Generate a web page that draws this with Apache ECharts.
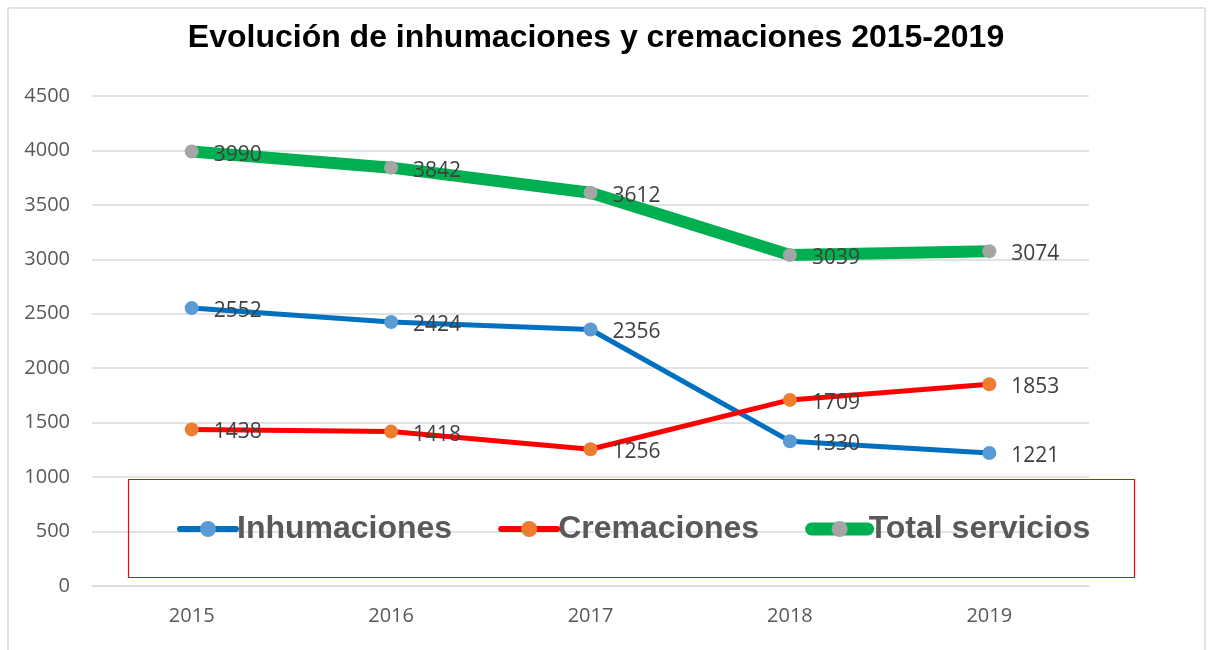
<!DOCTYPE html>
<html><head><meta charset="utf-8">
<script src="https://cdn.jsdelivr.net/npm/echarts@6/dist/echarts.min.js"></script>
<style>html,body{margin:0;padding:0;background:#fff}#c{width:1213px;height:650px}</style>
</head><body><div id="c"></div>
<script>
const years = ['2015','2016','2017','2018','2019'];
const inhumaciones = [2552, 2424, 2356, 1330, 1221];
const cremaciones = [1438, 1418, 1256, 1709, 1853];
const totalServicios = [3990, 3842, 3612, 3039, 3074];
const titleText = 'Evolución de inhumaciones y cremaciones 2015-2019';

const FONT = '"Liberation Sans", Arial, sans-serif';
const NFONT = '"Open Sans", sans-serif';
const chart = echarts.init(document.getElementById('c'), null, {renderer:'canvas'});
const lbl = {show:true, position:'right', distance:15, offset:[0,3], fontSize:21, color:'#404040', fontFamily:NFONT};
function mk(name, data, lineColor, markColor, width){
  return {name, type:'line', data, symbol:'circle', symbolSize:14,
    lineStyle:{color:lineColor, width, cap:'round', join:'round'},
    itemStyle:{color:markColor},
    label:lbl, z: 2};
}
chart.setOption({
  animation:false,
  title:{text:titleText, left:591, textAlign:'center', top:17,
    textStyle:{fontFamily:FONT, fontWeight:'bold', fontSize:32, color:'#000'}},
  grid:{left:92, right:124, top:96, bottom:64},
  xAxis:{type:'category', data:years, boundaryGap:true,
    axisLine:{lineStyle:{color:'#D9D9D9', width:1}}, axisTick:{show:false},
    axisLabel:{fontFamily:NFONT, fontSize:20, color:'#595959', margin:20}},
  yAxis:{type:'value', min:0, max:4500, interval:500,
    axisLine:{show:false}, axisTick:{show:false},
    splitLine:{lineStyle:{color:'#D9D9D9', width:1.5}},
    axisLabel:{fontFamily:NFONT, fontSize:20, color:'#595959', margin:22, formatter:v=>String(v)}},
  legend:{left:177, top:513, padding:0, itemWidth:56, itemHeight:20, itemGap:46,
    data:[
      {name:'Inhumaciones', lineStyle:{width:6}},
      {name:'Cremaciones', lineStyle:{width:6}},
      {name:'Total servicios', lineStyle:{width:13}}
    ],
    textStyle:{fontFamily:FONT, fontWeight:'bold', fontSize:32, color:'#595959', padding:[0,0,0,-4]}},
  graphic:[
    {type:'rect', left:126, top:477, shape:{width:1006, height:98}, style:{fill:'none', stroke:'#FF0000', lineWidth:1.2}, z:100},
    {type:'line', shape:{x1:8, y1:8, x2:8, y2:650}, style:{stroke:'#D9D9D9', lineWidth:1.5}},
    {type:'line', shape:{x1:8, y1:8, x2:1205, y2:8}, style:{stroke:'#D9D9D9', lineWidth:1.5}},
    {type:'line', shape:{x1:1205, y1:8, x2:1205, y2:650}, style:{stroke:'#D9D9D9', lineWidth:1.5}}
  ],
  series:[
    mk('Inhumaciones', inhumaciones, '#0070C0', '#5B9BD5', 5),
    mk('Cremaciones', cremaciones, '#FF0000', '#ED7D31', 5),
    mk('Total servicios', totalServicios, '#00B050', '#A5A5A5', 12)
  ]
});
</script></body></html>
